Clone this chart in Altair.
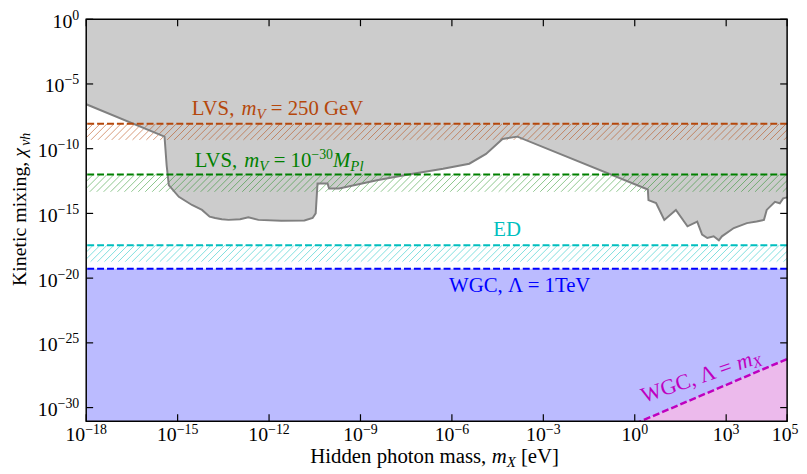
import altair as alt
import pandas as pd
import numpy as np

# ---------------- data ----------------
x_lim = [1e-18, 1e5]
y_lim = [10 ** -31.05, 1.0]

# lower edge of the grey excluded region (log10 m_X [eV], log10 chi)
bound_logm = [-18.0, -15.43, -15.36, -15.29, -14.96, -14.53, -14.20, -13.95, -13.77, -13.55,
              -13.33, -12.95, -12.68, -12.35, -11.60, -10.84, -10.57, -10.47, -10.41, -10.08,
              -10.03, -9.70, -8.46, -7.38, -6.29, -5.43, -4.88, -4.34, -3.85, 0.43, 0.45,
              0.70, 0.97, 1.35, 1.73, 2.05, 2.21, 2.38, 2.59, 2.76, 2.86, 3.25, 3.68, 4.00,
              4.24, 4.33, 4.60, 4.76, 4.87, 5.0]
bound_logchi = [-6.57, -9.07, -11.3, -12.82, -13.72, -14.35, -14.73, -15.25, -15.35, -15.45,
                -15.50, -15.45, -15.30, -15.50, -15.57, -15.55, -15.35, -15.0, -12.69, -12.69,
                -13.07, -13.07, -12.44, -11.98, -11.55, -11.16, -10.40, -9.25, -9.07, -13.15, -13.97,
                -14.20, -15.50, -14.73, -16.00, -15.63, -16.64, -16.90, -16.77, -17.08, -16.77,
                -16.13, -15.75, -15.63, -15.50, -14.73, -14.10, -14.22, -13.84, -13.76]

# horizontal bounds: (top line, bottom of hatched band) in log10 chi
lvs250_band = [-8.08, -9.32]
lvspl_band = [-12.0, -13.33]
ed_band = [-17.46, -18.73]
wgc_tev_log = -19.27
# WGC, Lambda = m_X line
wgc_mx_logm = [0.0, 5.0]
wgc_mx_logchi = [-31.25, -26.25]

x_tick_exps = [-18, -15, -12, -9, -6, -3, 0, 3, 5]
y_tick_exps = [0, -5, -10, -15, -20, -25, -30]

# ---------------- style ----------------
W, H = 708, 406
FONT = "Liberation Serif"
ORANGE = "#b5470b"
GREEN = "#008000"
CYAN = "#00bfbf"
BLUE = "#0000ff"
MAGENTA = "#bf00bf"
PX_X = W / 23.0
PX_Y = H / 31.05

xs = alt.Scale(type="log", domain=x_lim, nice=False)
ys = alt.Scale(type="log", domain=y_lim, nice=False)


def X(f):
    return alt.X(f, type="quantitative", scale=xs, axis=None)


def Y(f):
    return alt.Y(f, type="quantitative", scale=ys, axis=None)


REG = {'L': .611, 'V': .722, 'S': .556, ',': .25, ' ': .25, '=': .564, 'G': .722, 'e': .444,
       'v': .5, 'W': .944, 'C': .667, 'Λ': .722, 'T': .611, 'E': .611, 'D': .722, 'K': .722,
       'i': .278, 'n': .5, 't': .278, 'c': .444, 'm': .778, 'x': .5, 'g': .5, 'H': .722,
       'd': .5, 'p': .5, 'h': .5, 'o': .5, 'a': .444, 's': .389, '[': .333, ']': .333,
       '−': .564, 'M': .889, 'P': .556, 'l': .278, 'X': .722, 'χ': .55}
ITA = {'m': .722, 'V': .611, 'M': .833, 'P': .611, 'l': .278, 'X': .611, 'x': .444,
       'v': .444, 'h': .5, 'χ': .55}


def tw(t, size, it):
    tot = 0
    for c in t:
        if c.isdigit():
            tot += .5
        elif it and c in ITA:
            tot += ITA[c]
        else:
            tot += REG.get(c, .5)
    return tot * size


one = pd.DataFrame({"a": [0]})


def rich(segs, xpos, ypos, align="center", angle=0, color="black", shift=0, base_dy=0):
    widths = [tw(t, s, it) for t, s, it, _ in segs]
    total = sum(widths)
    start = {"center": -total / 2, "right": -total, "left": 0}[align] + shift
    cur = start
    layers = []
    for (t, s, it, d), w in zip(segs, widths):
        lead = len(t) - len(t.lstrip(" "))
        off = tw(" " * lead, s, False)
        kw = dict(text=t.strip(" "), align="left", baseline="alphabetic", font=FONT,
                  fontSize=s, color=color, dx=cur + off, dy=base_dy + d)
        if it:
            kw["fontStyle"] = "italic"
        if angle:
            kw["angle"] = angle
        enc = {}
        data = {"a": [0]}
        if xpos[0] == "data":
            data["xv"] = [xpos[1]]
            enc["x"] = X("xv")
        else:
            enc["x"] = alt.value(xpos[1])
        if ypos[0] == "data":
            data["yv"] = [ypos[1]]
            enc["y"] = Y("yv")
        else:
            enc["y"] = alt.value(ypos[1])
        layers.append(alt.Chart(pd.DataFrame(data)).mark_text(**kw).encode(**enc))
        cur += w
    return layers


layers = []

# grey excluded region
grey_df = pd.DataFrame({
    "m": [10 ** v for v in bound_logm],
    "chi": [10 ** v for v in bound_logchi],
    "top": [1.0] * len(bound_logm),
    "o": list(range(len(bound_logm))),
})
layers.append(alt.Chart(grey_df).mark_area(color="#cccccc", opacity=1).encode(
    x=X("m"), y=Y("chi"), y2=alt.Y2("top")))

# blue WGC (1 TeV) region
blue_df = pd.DataFrame({"m": x_lim, "hi": [10 ** wgc_tev_log] * 2, "lo": [y_lim[0]] * 2})
layers.append(alt.Chart(blue_df).mark_area(color="#bbbbff", opacity=1).encode(
    x=X("m"), y=Y("hi"), y2=alt.Y2("lo")))

# pink WGC (Lambda = m_X) region
pink_df = pd.DataFrame({"m": [10 ** v for v in wgc_mx_logm],
                        "chi": [10 ** v for v in wgc_mx_logchi],
                        "lo": [y_lim[0]] * 2})
layers.append(alt.Chart(pink_df).mark_area(color="#ecbaec", opacity=1, clip=True).encode(
    x=X("m"), y=Y("chi"), y2=alt.Y2("lo")))


# hatched bands
def hatch(band, color, opacity):
    top, bot = band
    ext = (top - bot) * PX_Y / PX_X
    step = 7.0 / PX_X
    x0 = np.arange(-18 - ext, 5 + step, step)
    df = pd.DataFrame({"x1": 10 ** x0, "x2": 10 ** (x0 + ext),
                       "y1": [10 ** bot] * len(x0), "y2": [10 ** top] * len(x0)})
    return alt.Chart(df).mark_rule(clip=True, color=color, opacity=opacity, strokeWidth=1).encode(
        x=X("x1"), x2=alt.X2("x2"), y=Y("y1"), y2=alt.Y2("y2"))


layers.append(hatch(lvs250_band, ORANGE, 0.55))
layers.append(hatch(lvspl_band, GREEN, 0.45))
layers.append(hatch(ed_band, CYAN, 0.5))

# grey outline
layers.append(alt.Chart(grey_df).mark_line(color="#808080", strokeWidth=2).encode(
    x=X("m"), y=Y("chi"), order="o:Q"))

# dashed horizontal lines
dash_df = pd.DataFrame({
    "chi": [10 ** lvs250_band[0], 10 ** lvspl_band[0], 10 ** ed_band[0], 10 ** wgc_tev_log],
    "c": [ORANGE, GREEN, CYAN, BLUE],
})
layers.append(alt.Chart(dash_df).mark_rule(strokeDash=[7, 3], strokeWidth=2).encode(
    y=Y("chi"), color=alt.Color("c:N", scale=None)))

# WGC Lambda = m_X dashed line
layers.append(alt.Chart(pink_df).mark_line(color=MAGENTA, strokeDash=[7, 3], strokeWidth=2.5,
                                           clip=True).encode(x=X("m"), y=Y("chi")))

# labels in the plot
layers += rich([("LVS, ", 21, False, 0), ("m", 21, True, 0), ("V", 15, True, 4),
                (" = 250 GeV", 21, False, 0)],
               ("data", 10 ** -11.72), ("data", 10 ** lvs250_band[0]), color=ORANGE, base_dy=-9)
layers += rich([("LVS, ", 21, False, 0), ("m", 21, True, 0), ("V", 15, True, 4),
                (" = 10", 21, False, 0), ("−30", 14, False, -8), ("M", 21, True, 0),
                ("Pl", 15, True, 4)],
               ("data", 10 ** -11.67), ("data", 10 ** lvspl_band[0]), color=GREEN, base_dy=-8)
layers += rich([("ED", 21, False, 0)],
               ("data", 10 ** -4.19), ("data", 10 ** ed_band[0]), color=CYAN, base_dy=-9)
layers += rich([("WGC, Λ = 1TeV", 21, False, 0)],
               ("data", 10 ** -3.74), ("data", 10 ** wgc_tev_log), color=BLUE, base_dy=24)
layers += rich([("WGC, Λ = ", 22, False, 0), ("m", 22, True, 0), ("X", 15, True, 3)],
               ("data", 10 ** 0.3), ("data", 10 ** -29.65), align="left", angle=341,
               color=MAGENTA)

# ticks (pointing inward, all four sides)
xt = pd.DataFrame({"m": [10.0 ** e for e in x_tick_exps]})
yt = pd.DataFrame({"chi": [10.0 ** e for e in y_tick_exps]})
tk = dict(color="black", strokeWidth=1.2)
layers.append(alt.Chart(xt).mark_rule(**tk).encode(x=X("m"), y=alt.value(H), y2=alt.value(H - 7)))
layers.append(alt.Chart(xt).mark_rule(**tk).encode(x=X("m"), y=alt.value(0), y2=alt.value(7)))
layers.append(alt.Chart(yt).mark_rule(**tk).encode(y=Y("chi"), x=alt.value(0), x2=alt.value(7)))
layers.append(alt.Chart(yt).mark_rule(**tk).encode(y=Y("chi"), x=alt.value(W - 7), x2=alt.value(W)))

# frame
layers.append(alt.Chart(one).mark_rect(filled=False, stroke="black", strokeWidth=1.5).encode(
    x=alt.value(0), x2=alt.value(W), y=alt.value(0), y2=alt.value(H)))


def exp_str(e):
    return ("−" + str(-e)) if e < 0 else str(e)


# tick labels
for e in x_tick_exps:
    layers += rich([("10", 20, False, 0), (exp_str(e), 14, False, -7)],
                   ("data", 10.0 ** e), ("px", H + 20), shift=(-2 if e == 5 else 0))
for e in y_tick_exps:
    layers += rich([("10", 20, False, 8.5), (exp_str(e), 14, False, 0.5)],
                   ("px", 0), ("data", 10.0 ** e), align="right", shift=-7)

# axis titles
layers += rich([("Hidden photon mass, ", 21, False, 0), ("m", 21, True, 0), ("X", 15, True, 4),
                (" [eV]", 21, False, 0)], ("px", W / 2 - 2), ("px", H + 42))
layers += rich([("Kinetic mixing, ", 20, False, 0), ("χ", 20, True, 0), ("vh", 14, True, 4)],
               ("px", -61), ("px", 192), angle=270)

chart = alt.layer(*layers).properties(
    width=W, height=H,
    autosize=alt.AutoSizeParams(type="none"),
    padding={"left": 79, "top": 9, "right": 12, "bottom": 50},
).configure_view(stroke=None)

chart.save("out.html", embed_options={"renderer": "svg", "actions": False})
